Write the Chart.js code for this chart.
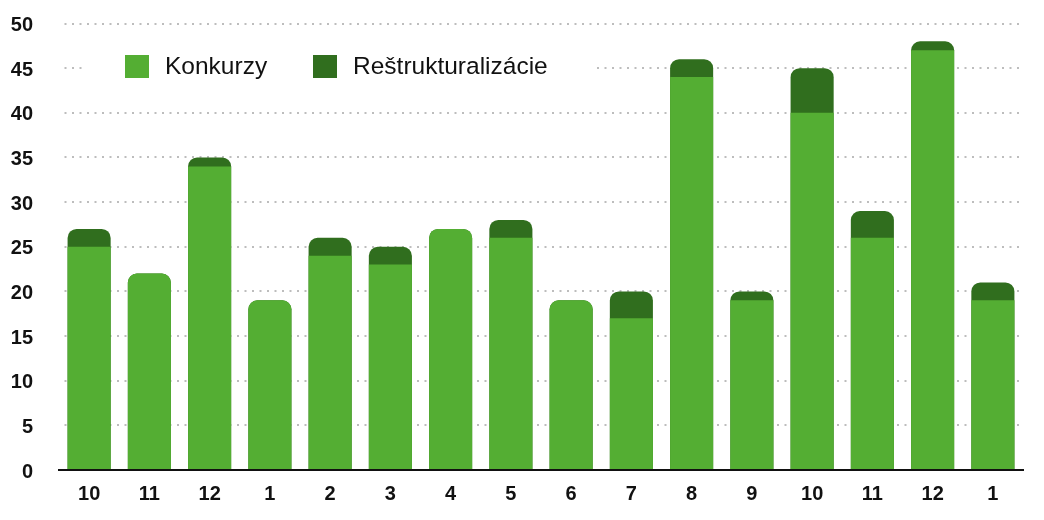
<!DOCTYPE html>
<html>
<head>
<meta charset="utf-8">
<script src="https://cdn.jsdelivr.net/npm/chart.js@4/dist/chart.umd.min.js"></script>
<style>
  html, body { margin: 0; padding: 0; background: #ffffff; }
  #wrap { width: 1044px; height: 520px; position: relative; }
</style>
</head>
<body>
<div id="wrap"><canvas id="chart"></canvas></div>
<script>
// Months (consecutive, spanning year boundary)
const months = ['10', '11', '12', '1', '2', '3', '4', '5', '6', '7', '8', '9', '10', '11', '12', '1'];
// Bankruptcies per month
const konkurzy = [25, 22, 34, 19, 24, 23, 27, 26, 19, 17, 44, 19, 40, 26, 47, 19];
// Restructurings per month
const restrukturalizacie = [2, 0, 1, 0, 2, 2, 0, 2, 0, 3, 2, 1, 5, 3, 1, 2];
// Y-axis range
const yMin = 0, yMax = 50, yStep = 5;

const seriesNames = ['Konkurzy', 'Reštrukturalizácie'];
const colors = ['#54ae33', '#306e1e'];
const fontFamily = '"Helvetica Neue", Helvetica, Arial, "Liberation Sans", sans-serif';
const radius = 9;

// Stack tops: restructurings sit on top of bankruptcies. The darker bar spans
// the whole stack and the lighter bar is laid over its lower part, so the
// rounded top corners keep their full radius even on thin segments.
const stackTotals = konkurzy.map((v, i) => v + restrukturalizacie[i]);

// Legend drawn inside the plot area on a white panel
const insideLegend = {
  id: 'insideLegend',
  beforeDatasetsDraw(chart) {
    const ctx = chart.ctx;
    ctx.save();
    ctx.fillStyle = '#ffffff';
    ctx.fillRect(84, 46, 509, 42);
    const items = [{ x: 125 }, { x: 313 }];
    ctx.font = '24.5px ' + fontFamily;
    ctx.textBaseline = 'middle';
    ctx.textAlign = 'left';
    chart.data.datasets.forEach((ds, i) => {
      const bx = items[i].x;
      ctx.fillStyle = ds.backgroundColor;
      ctx.fillRect(bx, 55, 24, 23);
      ctx.fillStyle = '#111111';
      ctx.fillText(ds.label, bx + 40, 67);
    });
    ctx.restore();
  }
};

new Chart(document.getElementById('chart'), {
  type: 'bar',
  data: {
    labels: months,
    datasets: [
      {
        label: seriesNames[0],
        data: konkurzy,
        backgroundColor: colors[0],
        // only the top of the stack is rounded
        borderRadius: (c) => (restrukturalizacie[c.dataIndex] > 0 ? 0 : radius)
      },
      {
        label: seriesNames[1],
        data: stackTotals,
        backgroundColor: colors[1],
        borderRadius: radius
      }
    ]
  },
  options: {
    responsive: true,
    maintainAspectRatio: false,
    animation: false,
    devicePixelRatio: 1,
    layout: { padding: { left: 0, right: 21, top: 23.5, bottom: 0 } },
    datasets: {
      bar: {
        grouped: false,
        categoryPercentage: 1,
        barPercentage: 0.715,
        borderSkipped: 'start'
      }
    },
    plugins: {
      legend: { display: false },
      tooltip: { enabled: false }
    },
    scales: {
      x: {
        grid: { display: false, drawTicks: false },
        border: { display: true, color: '#111111', width: 2 },
        ticks: {
          color: '#111111',
          font: { family: fontFamily, size: 20, weight: 'bold' },
          padding: 12,
          maxRotation: 0
        },
        afterFit(scale) { scale.height = 50; }
      },
      y: {
        min: yMin,
        max: yMax,
        grid: {
          color: '#bdbdbd',
          lineWidth: 2,
          drawTicks: false
        },
        border: { display: false, dash: [2, 5.5], dashOffset: 2 },
        ticks: {
          stepSize: yStep,
          color: '#111111',
          font: { family: fontFamily, size: 20, weight: 'bold' },
          padding: 26,
          labelOffset: 2
        },
        afterFit(scale) {
          scale.width = 59;
          scale.paddingTop = 0;
          scale.paddingBottom = 0;
        }
      }
    }
  },
  plugins: [insideLegend]
});
</script>
</body>
</html>
